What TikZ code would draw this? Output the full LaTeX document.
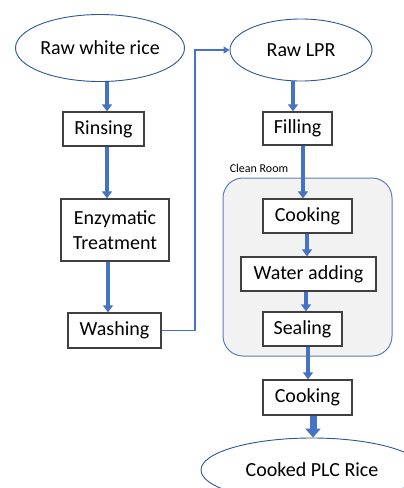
\documentclass[tikz,border=0pt]{standalone}
\usepackage{fontspec}
\setmainfont{Carlito}
\usetikzlibrary{arrows.meta,shapes.geometric}
\definecolor{flowblue}{HTML}{4472C4}
\definecolor{ellblue}{HTML}{2F5597}
\definecolor{boxgray}{HTML}{404040}
\definecolor{roomfill}{HTML}{F2F2F2}
\definecolor{roomedge}{HTML}{5B7DB8}
\tikzset{
  stepbox/.style={draw=boxgray, line width=1.4pt, fill=white, inner sep=0pt, align=center, font=\fontsize{20}{25}\selectfont},
  startend/.style={ellipse, draw=ellblue, line width=0.9pt, fill=white, inner sep=0pt, font=\fontsize{20}{25}\selectfont},
  flow/.style={draw=flowblue, line width=4pt, -{Triangle[width=10pt,length=7pt]}},
  bigflow/.style={draw=flowblue, line width=7pt, -{Triangle[width=15pt,length=9pt]}},
  link/.style={draw=flowblue, line width=1.8pt, -{Triangle[width=7pt,length=6pt]}},
}
\begin{document}
\begin{tikzpicture}[x=1pt,y=-1pt]
\useasboundingbox (0,0) rectangle (404,488);
\clip (0,0) rectangle (404,488);
% clean room
\draw[draw=roomedge, fill=roomfill, line width=1pt, rounded corners=20pt] (223,178) rectangle (392,356);
\node[font=\fontsize{12}{14}\selectfont, inner sep=0pt] (cleanlabel) at (259,168) {Clean Room};
% left column
\node[startend, minimum width=169pt, minimum height=67pt] (rawwhite) at (100,48) {Raw white rice};
\node[stepbox, minimum width=81pt, minimum height=34pt] (rinsing) at (103.5,129) {Rinsing};
\node[stepbox, minimum width=108pt, minimum height=62pt] (enzym) at (115,230) {Enzymatic\\Treatment};
\node[stepbox, minimum width=93pt, minimum height=35pt] (washing) at (114.5,330.5) {Washing};
% right column
\node[startend, minimum width=142pt, minimum height=62pt] (rawlpr) at (301,50) {Raw LPR};
\node[stepbox, minimum width=69pt, minimum height=33pt] (filling) at (297.5,128.5) {Filling};
\node[stepbox, minimum width=89pt, minimum height=34pt] (cook1) at (307.5,216) {Cooking};
\node[stepbox, minimum width=135pt, minimum height=34pt] (water) at (308.5,274) {Water adding};
\node[stepbox, minimum width=79pt, minimum height=34pt] (sealing) at (302.5,329) {Sealing};
\node[stepbox, minimum width=89pt, minimum height=35pt] (cook2) at (307.5,397.5) {Cooking};
\node[startend, minimum width=222pt, minimum height=64pt] (cooked) at (312,470) {Cooked PLC Rice};
% connectors
\draw[flow] (rawwhite.south -| 107,0) -- (rinsing.north -| 107,0);
\draw[flow] (rinsing.south -| 107,0) -- (enzym.north -| 107,0);
\draw[flow] (enzym.south -| 108,0) -- (washing.north -| 108,0);
\draw[link] (washing.east) -- (195,330.5) -- (195,50) -- (rawlpr.west);
\draw[flow] (293,81) -- (filling.north -| 293,0);
\draw[flow] (filling.south -| 303,0) -- (cook1.north -| 303,0);
\draw[flow] (cook1.south -| 307,0) -- (water.north -| 307,0);
\draw[flow] (water.south -| 306,0) -- (sealing.north -| 306,0);
\draw[flow] (sealing.south -| 308,0) -- (cook2.north -| 308,0);
\draw[bigflow] (cook2.south -| 313,0) -- (cooked.north -| 313,0);
\end{tikzpicture}
\end{document}
